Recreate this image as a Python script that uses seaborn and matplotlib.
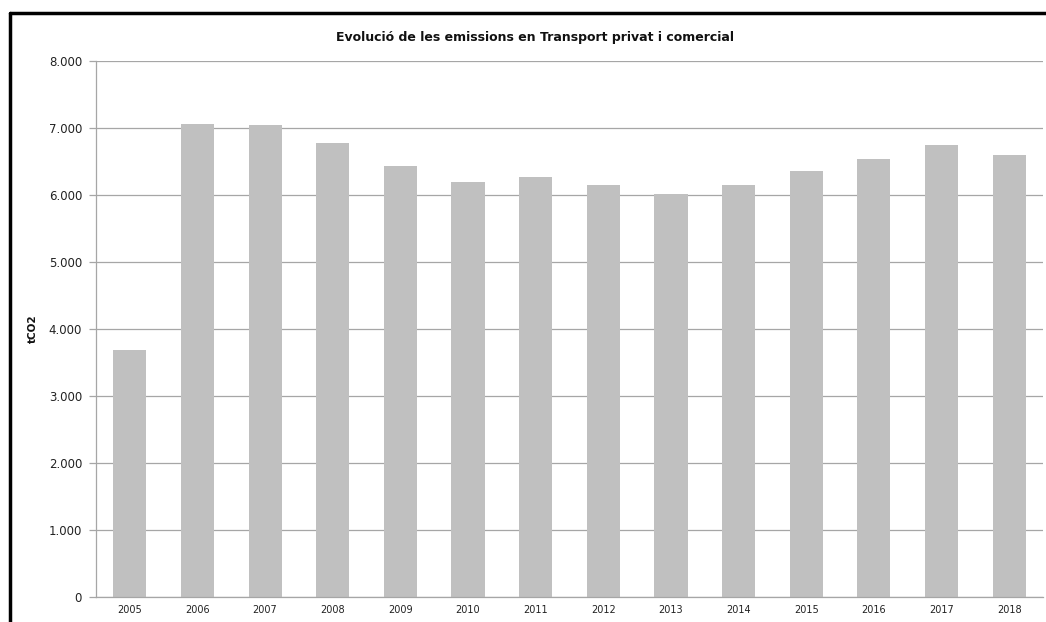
import numpy as np
import pandas as pd
import matplotlib
matplotlib.use("Agg")
import matplotlib.pyplot as plt
from matplotlib.lines import Line2D
from matplotlib.ticker import FuncFormatter, FixedLocator
import seaborn as sns

# ─── Data ─────────────────────────────────────────────────────────────────────
years = ["2005", "2006", "2007", "2008", "2009", "2010", "2011",
         "2012", "2013", "2014", "2015", "2016", "2017", "2018"]
emissions = [3685, 7064, 7049, 6782, 6426, 6189, 6263,
             6144, 6020, 6144, 6352, 6535, 6749, 6600]

TITLE = "Evolució de les emissions en Transport privat i comercial"
Y_LABEL = "tCO2"

df = pd.DataFrame({"year": years, "tco2": emissions})

# ─── Style ────────────────────────────────────────────────────────────────────
sns.set_style("white")
plt.rcParams["font.family"] = ["DejaVu Sans"]

fig = plt.figure(figsize=(10.46, 6.22), dpi=100)
ax = fig.add_axes([96 / 1046, 25 / 622, (1043 - 96) / 1046, (597 - 61) / 622])

sns.barplot(data=df, x="year", y="tco2", color="#c0c0c0", saturation=1,
            width=0.49, linewidth=0, ax=ax, zorder=2)

ax.set_ylim(0, 8000)
ax.set_xlim(-0.5, len(years) - 0.5)
ax.set_yticks(np.arange(0, 8001, 1000))
ax.yaxis.set_major_formatter(FuncFormatter(lambda v, _: f"{int(v):,}".replace(",", ".")))
ax.grid(axis="y", color="#a6a6a6", linewidth=0.9, zorder=0)
ax.set_axisbelow(True)

# tick marks between categories on the x axis
ax.xaxis.set_minor_locator(FixedLocator(np.arange(-0.5, len(years), 1.0)))
ax.tick_params(axis="x", which="major", length=0, labelsize=7, pad=6, labelcolor="#222222")
ax.tick_params(axis="x", which="minor", length=4, color="#a6a6a6", direction="out")
ax.tick_params(axis="y", length=5, width=0.9, color="#a6a6a6", labelsize=8.5, pad=5,
               labelcolor="#222222", left=True)

for side in ("top", "right"):
    ax.spines[side].set_visible(False)
for side in ("left", "bottom"):
    ax.spines[side].set_color("#a6a6a6")
    ax.spines[side].set_linewidth(0.9)

ax.set_xlabel("")
ax.set_ylabel(Y_LABEL, fontsize=7.5, fontweight="bold", color="#111111")
ax.yaxis.set_label_coords(-58 / 947, 0.5)

fig.text(535 / 1046, 1 - 37 / 622, TITLE, ha="center", va="center",
         fontsize=9, fontweight="bold", color="#111111")

# chart frame (only left and top edges visible)
fig.add_artist(Line2D([10 / 1046, 10 / 1046], [0, 1 - 13 / 622],
                      transform=fig.transFigure, color="black", linewidth=2.5))
fig.add_artist(Line2D([10 / 1046, 1], [1 - 13 / 622, 1 - 13 / 622],
                      transform=fig.transFigure, color="black", linewidth=2.5))

fig.savefig("out.png", dpi=100)
plt.close(fig)
